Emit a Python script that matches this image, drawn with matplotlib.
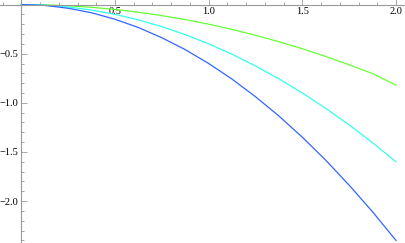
import numpy as np
import matplotlib.pyplot as plt
from matplotlib.ticker import MultipleLocator, FixedLocator

# values
x = [0, 0.125, 0.25, 0.375, 0.5, 0.625, 0.75, 0.875, 1.0,
     1.125, 1.25, 1.375, 1.5, 1.625, 1.75, 1.875, 2.0]
y_green = [0, -0.003, -0.013, -0.028, -0.05, -0.078, -0.113, -0.153, -0.2,
           -0.253, -0.313, -0.378, -0.45, -0.528, -0.613, -0.703, -0.82]
y_cyan = [0, -0.006, -0.025, -0.056, -0.1, -0.156, -0.225, -0.306, -0.4,
          -0.506, -0.625, -0.756, -0.9, -1.056, -1.225, -1.406, -1.6]
y_blue = [0, -0.009, -0.038, -0.084, -0.15, -0.234, -0.338, -0.459, -0.6,
          -0.759, -0.938, -1.134, -1.35, -1.584, -1.838, -2.109, -2.4]

xticks = [0.5, 1.0, 1.5, 2.0]
yticks = [-0.5, -1.0, -1.5, -2.0]

plt.rcParams['font.family'] = ['Liberation Serif', 'DejaVu Serif']

fig = plt.figure(figsize=(4.05, 2.43), dpi=100)
ax = fig.add_axes([0, 0, 1, 1])

ax.plot(x, y_green, color='#66ff33', lw=0.9)
ax.plot(x, y_cyan, color='#33ffee', lw=0.9)
ax.plot(x, y_blue, color='#3366ff', lw=0.9)

ax.set_xlim(-0.114, 2.048)
ax.set_ylim(-2.426, 0.046)

# Mathematica-like axes through the origin
for side in ['top', 'right']:
    ax.spines[side].set_visible(False)
for side in ['left', 'bottom']:
    ax.spines[side].set_position(('data', 0))
    ax.spines[side].set_color('#999999')
    ax.spines[side].set_linewidth(0.8)

ax.xaxis.set_major_locator(FixedLocator(xticks))
ax.xaxis.set_minor_locator(MultipleLocator(0.1))
ax.yaxis.set_major_locator(FixedLocator(yticks))
ax.yaxis.set_minor_locator(MultipleLocator(0.1))
ax.set_xticklabels(['%.1f' % v for v in xticks])
ax.set_yticklabels(['\u2212%.1f' % -v for v in yticks])

ax.tick_params(which='both', direction='in', color='#999999', width=0.6,
               labelsize=7.5, labelcolor='black')
ax.tick_params(which='major', length=4, pad=2)
ax.tick_params(which='minor', length=2)
ax.tick_params(axis='y', pad=2)

fig.savefig('out.png', dpi=100)
